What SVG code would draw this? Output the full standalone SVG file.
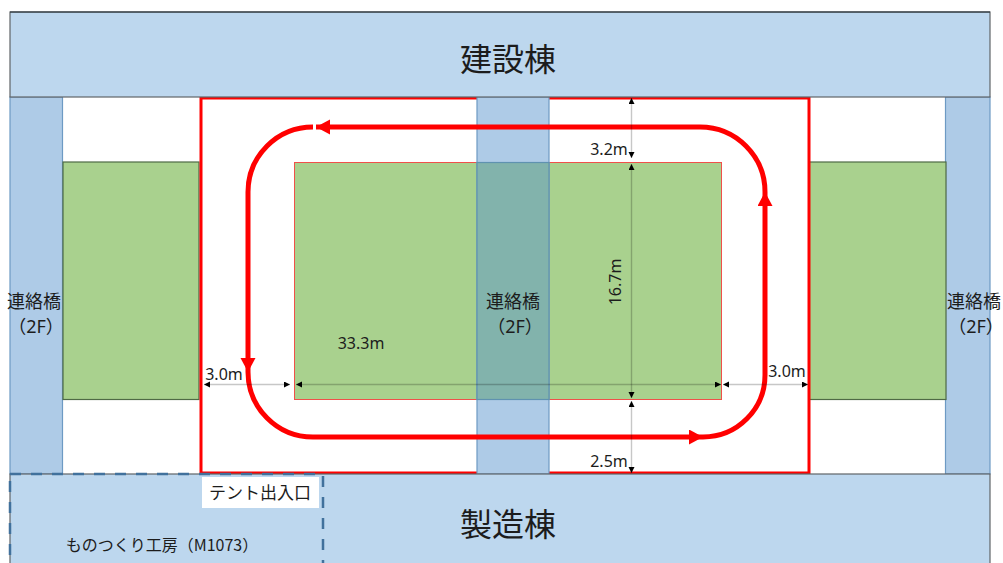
<svg xmlns="http://www.w3.org/2000/svg" width="1003" height="563" viewBox="0 0 1003 563">
<defs>
<style>
.bld{fill:#bdd7ee;stroke:#5f6468;stroke-width:1.2}
.br{fill:#aecbe7;stroke:#6d9ac4;stroke-width:1.2}
.gr{fill:#a9d18e;stroke:#4f6a45;stroke-width:1.2}
.route{fill:none;stroke:#ff0000;stroke-width:5}
.dim{fill:none;stroke:#000;stroke-opacity:.22;stroke-width:1.400}
.t{font-family:"Noto Sans CJK JP","Noto Sans",sans-serif;fill:#1c1c1c;font-size:18px;text-anchor:middle}
.big{font-size:32px}
.s{font-size:17px}
.w{font-size:16px}
.n{font-family:"Noto Sans","Open Sans",sans-serif;font-size:16px}
.f{font-family:"Noto Sans","Noto Sans CJK JP",sans-serif;font-size:18px}
</style>
<marker id="rh" markerUnits="userSpaceOnUse" markerWidth="16" markerHeight="16" refX="14" refY="7.500" orient="auto-start-reverse"><path d="M0 0L14 7.500L0 15Z" fill="#ff0000"/></marker>
<marker id="dh" markerUnits="userSpaceOnUse" markerWidth="7" markerHeight="7" refX="6" refY="3" orient="auto-start-reverse"><path d="M0 0L6 3L0 6Z" fill="#000"/></marker>
</defs>
<rect width="1003" height="563" fill="#fff"/>
<g id="bridge-left"><rect class="br" x="10" y="97" width="52.500" height="377"/></g>
<g id="bridge-right"><rect class="br" x="945.500" y="97" width="44.500" height="377"/></g>
<g id="green-left"><rect class="gr" x="63" y="162" width="136" height="237.500"/></g>
<g id="green-right"><rect class="gr" x="809" y="162" width="137" height="237.500"/></g>
<g id="tent-area"><rect x="201" y="98" width="608" height="375" fill="#fff" stroke="#ff0000" stroke-width="3"/></g>
<g id="green-center"><rect x="294.500" y="162.500" width="427" height="237" fill="#a9d18e" stroke="#f0504a" stroke-width="1"/></g>
<g id="bridge-center"><rect x="477" y="97" width="72" height="377" fill="#aecbe7" stroke="#6d9ac4" stroke-width="1.200"/><rect x="477" y="162.500" width="72" height="237" fill="#82b3ac" stroke="#5f92b0" stroke-width="1.200"/></g>
<g id="building-top"><rect class="bld" x="10" y="12" width="980" height="85"/><path d="M10 12H990" stroke="#1f2a33" stroke-width="1.200" fill="none"/><text class="t big" x="508" y="71">建設棟</text></g>
<g id="building-bottom"><rect class="bld" x="10" y="474" width="980" height="95"/><text class="t big" x="508" y="536">製造棟</text></g>
<g id="workshop"><rect x="10" y="474" width="313" height="95" fill="none" stroke="#41719c" stroke-width="2.500" stroke-dasharray="11 10"/><text class="t w" x="162" y="551">ものつくり工房（M1073）</text></g>
<g id="entrance"><rect x="202" y="477" width="117" height="31" fill="#fff"/><text class="t s" x="260" y="499">テント出入口</text></g>
<g id="connectors">
<path class="route" marker-end="url(#rh)" d="M700 127H316"/>
<path class="route" d="M313 127A65 65 0 0 0 248 192"/>
<path class="route" marker-end="url(#rh)" d="M248 192V372"/>
<path class="route" d="M248 372A65 65 0 0 0 313 437"/>
<path class="route" marker-end="url(#rh)" d="M313 437H703"/>
<path class="route" d="M703 437A62 62 0 0 0 765 375"/>
<path class="route" marker-end="url(#rh)" d="M765 375V192"/>
<path class="route" d="M765 192A65 65 0 0 0 700 127"/>
<path class="dim" marker-start="url(#dh)" marker-end="url(#dh)" d="M631.500 98V158"/>
<path class="dim" marker-start="url(#dh)" marker-end="url(#dh)" d="M631.500 164V398"/>
<path class="dim" marker-start="url(#dh)" marker-end="url(#dh)" d="M631.500 401V473"/>
<path class="dim" marker-start="url(#dh)" marker-end="url(#dh)" d="M204 384.500H290"/>
<path class="dim" marker-start="url(#dh)" marker-end="url(#dh)" d="M296 384.500H721"/>
<path class="dim" marker-start="url(#dh)" marker-end="url(#dh)" d="M723 384.500H808"/>
</g>
<g id="labels">
<text class="t" x="34" y="308">連絡橋</text><text class="t f" x="36" y="333">（2F）</text>
<text class="t" x="513" y="308">連絡橋</text><text class="t f" x="515" y="333">（2F）</text>
<text class="t" x="974" y="308">連絡橋</text><text class="t f" x="976" y="333">（2F）</text>
<text class="t n" x="361" y="349">33.3m</text>
<text class="t n" x="609" y="155">3.2m</text>
<text class="t n" x="609" y="467">2.5m</text>
<text class="t n" x="224" y="380">3.0m</text>
<text class="t n" x="787" y="377">3.0m</text>
<text class="t n" transform="translate(621 282) rotate(-90)">16.7m</text>
</g>
</svg>
